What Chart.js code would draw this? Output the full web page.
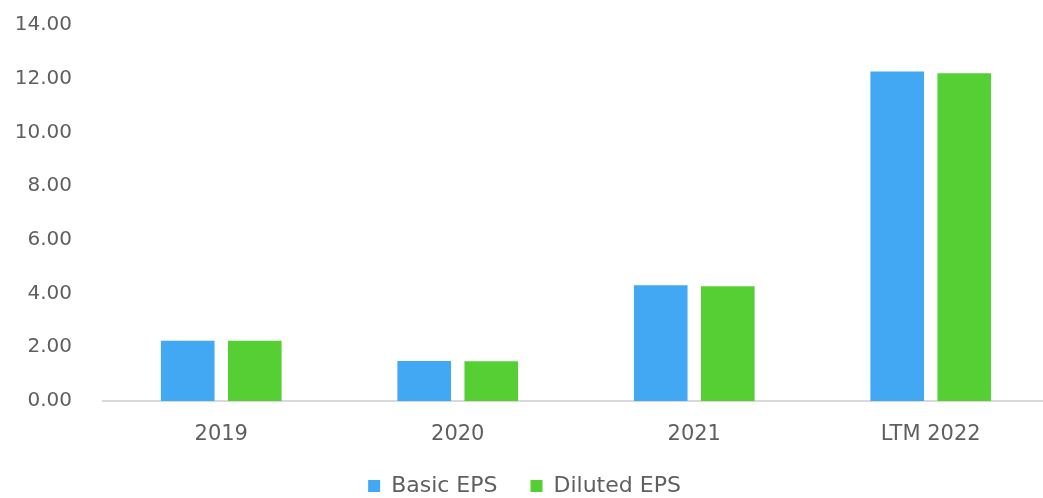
<!DOCTYPE html>
<html>
<head>
<meta charset="utf-8">
<script src="https://cdn.jsdelivr.net/npm/chart.js@4.4.1/dist/chart.umd.min.js"></script>
<style>
  html, body { margin: 0; padding: 0; background: #fff; overflow: hidden; }
  #wrap { position: relative; top: -18px; width: 1049px; height: 516px; }
</style>
</head>
<body>
<div id="wrap"><canvas id="eps"></canvas></div>
<script>
const periods = ['2019', '2020', '2021', 'LTM 2022'];
const basicEps = [2.24, 1.49, 4.31, 12.27];
const dilutedEps = [2.24, 1.48, 4.27, 12.20];
const yTicks = [0, 2, 4, 6, 8, 10, 12, 14];

const textColor = '#5f5f5f';
const fontFamily = "'DejaVu Sans', sans-serif";

Chart.defaults.font.family = fontFamily;
Chart.defaults.color = textColor;

new Chart(document.getElementById('eps'), {
  type: 'bar',
  data: {
    labels: periods,
    datasets: [
      { label: 'Basic EPS', data: basicEps, backgroundColor: '#42a8f4' },
      { label: 'Diluted EPS', data: dilutedEps, backgroundColor: '#55cf33' }
    ]
  },
  options: {
    responsive: true,
    maintainAspectRatio: false,
    animation: false,
    categoryPercentage: 0.567,
    barPercentage: 0.8,
    layout: { padding: { top: 0, right: 0, bottom: -9, left: 0 } },
    plugins: {
      tooltip: { enabled: false },
      legend: {
        position: 'bottom',
        labels: {
          font: { size: 22, weight: 'normal' },
          boxWidth: 12,
          boxHeight: 12,
          padding: 33
        }
      }
    },
    scales: {
      x: {
        grid: { display: false, drawTicks: false },
        border: { display: true, color: '#d9d9d9', width: 2 },
        afterFit: (scale) => { scale.height = 41; },
        ticks: { font: { size: 21 }, padding: 21 }
      },
      y: {
        min: 0,
        max: 14,
        afterBuildTicks: (scale) => { scale.ticks = yTicks.map(v => ({ value: v })); },
        afterFit: (scale) => { scale.width = 103; },
        grid: { display: false, drawTicks: false },
        border: { display: false },
        ticks: {
          font: { size: 20 },
          padding: 31,
          callback: (v) => Number(v).toFixed(2)
        }
      }
    }
  }
});
</script>
</body>
</html>
